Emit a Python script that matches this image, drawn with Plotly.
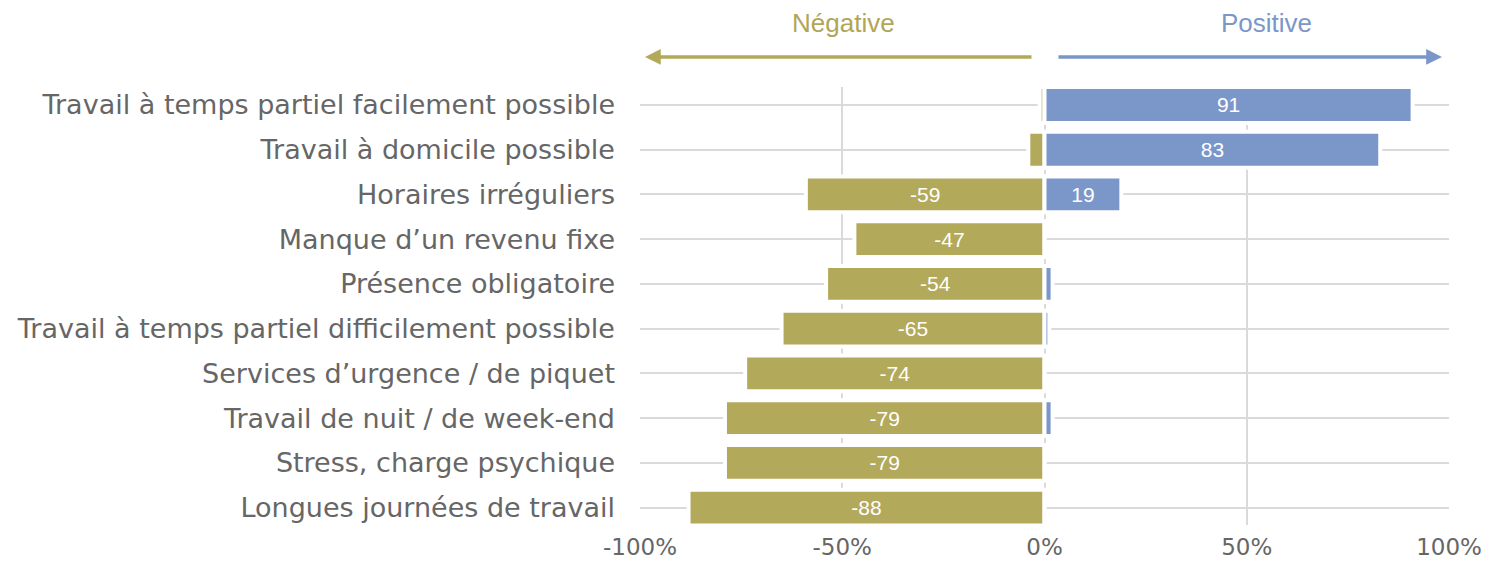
import plotly.graph_objects as go

categories = [
    "Travail à temps partiel facilement possible",
    "Travail à domicile possible",
    "Horaires irréguliers",
    "Manque d’un revenu fixe",
    "Présence obligatoire",
    "Travail à temps partiel difficilement possible",
    "Services d’urgence / de piquet",
    "Travail de nuit / de week-end",
    "Stress, charge psychique",
    "Longues journées de travail",
]
negative = [-1.2, -4, -59, -47, -54, -65, -74, -79, -79, -88]
positive = [91, 83, 19, 0, 2, 1.2, 0, 2, 0, 0]
x_ticks = [-100, -50, 0, 50, 100]
x_tick_labels = ["-100%", "-50%", "0%", "50%", "100%"]

OLIVE = "#B3A95A"
BLUE = "#7B97C9"
GRID = "#DADADA"
LABEL = "#666666"


def labels(vals):
    return [f"{v:.0f}" if abs(v) >= 10 else "" for v in vals]


fig = go.Figure()
for vals, color in ((negative, OLIVE), (positive, BLUE)):
    fig.add_trace(go.Bar(
        y=categories, x=vals, orientation="h",
        marker=dict(color=color, line=dict(color="white", width=4)),
        width=0.8,
        text=labels(vals), textposition="inside", insidetextanchor="middle",
        textangle=0, constraintext="none",
        textfont=dict(family="Liberation Sans, Arial", size=21, color="white"),
        showlegend=False, hoverinfo="skip",
    ))

fig.update_layout(
    width=1488, height=563,
    margin=dict(l=640, r=39, t=87, b=38, autoexpand=False),
    barmode="relative",
    plot_bgcolor="white", paper_bgcolor="white",
    font=dict(family="DejaVu Sans", color=LABEL),
    bargap=0.2,
)
fig.update_xaxes(
    range=[-100, 100], tickvals=x_ticks, ticktext=x_tick_labels,
    showgrid=True, gridcolor=GRID, gridwidth=2, zeroline=False, automargin=False,
    showline=False, ticks="", tickfont=dict(family="DejaVu Sans", size=23, color=LABEL),
    ticklabelstandoff=6, fixedrange=True,
)
fig.update_yaxes(
    range=[9.387, -0.402], showgrid=True, gridcolor=GRID, gridwidth=2,
    zeroline=False, showline=False, ticks="", automargin=False,
    tickfont=dict(family="DejaVu Sans", size=27, color=LABEL),
    ticklabelstandoff=24, fixedrange=True,
)

# direction arrows and titles
fig.add_annotation(xref="paper", yref="paper", x=0.00618, y=1.0685,
                   ax=388, ay=0, axref="pixel", ayref="pixel", text="",
                   showarrow=True, arrowhead=2, arrowsize=0.9, arrowwidth=3.5,
                   arrowcolor=OLIVE, standoff=0, startstandoff=0)
fig.add_annotation(xref="paper", yref="paper", x=0.9913, y=1.0685,
                   ax=-385, ay=0, axref="pixel", ayref="pixel", text="",
                   showarrow=True, arrowhead=2, arrowsize=0.9, arrowwidth=3.5,
                   arrowcolor=BLUE, standoff=0, startstandoff=0)
fig.add_annotation(xref="paper", yref="paper", x=0.2515, y=1.147,
                   text="Négative", showarrow=False, xanchor="center", yanchor="middle",
                   font=dict(family="Liberation Sans, Arial", size=26, color="#B0A656"))
fig.add_annotation(xref="paper", yref="paper", x=0.7738, y=1.147,
                   text="Positive", showarrow=False, xanchor="center", yanchor="middle",
                   font=dict(family="Liberation Sans, Arial", size=26, color=BLUE))

fig.write_html(
    "out.html",
    config={"displayModeBar": False},
    post_script="document.body.style.margin='0';document.body.style.overflow='hidden';",
)
